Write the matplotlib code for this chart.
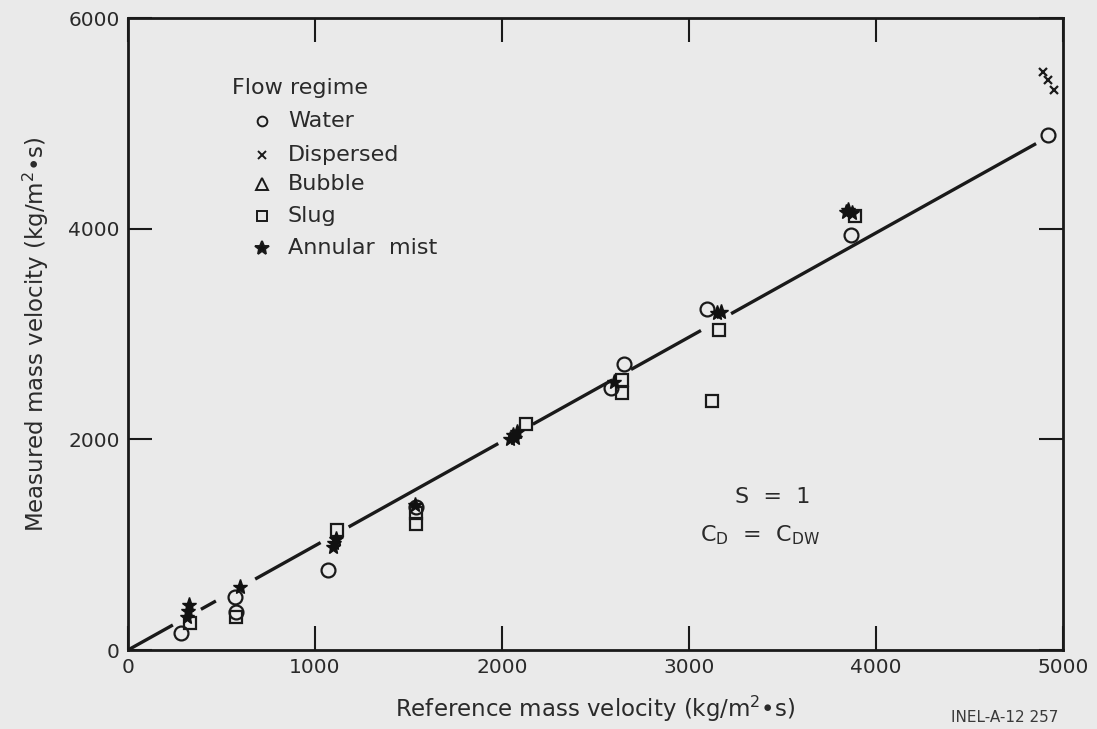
import matplotlib
matplotlib.use("Agg")
import matplotlib.pyplot as plt

# ---------------- data ----------------
water_x = [283, 570, 580, 1072, 1540, 2585, 2650, 3098, 3864, 4920]
water_y = [161, 500, 360, 759, 1360, 2486, 2714, 3236, 3938, 4887]

dispersed_x = [4893, 4920, 4950]
dispersed_y = [5485, 5409, 5314]

bubble_x = []
bubble_y = []

slug_x = [330, 580, 1120, 1540, 1540, 2130, 2640, 2640, 3162, 3125, 3890]
slug_y = [260, 310, 1139, 1300, 1200, 2150, 2562, 2440, 3037, 2363, 4120]

mist_x = [325, 320, 315, 600, 1100, 1110, 1095, 1535, 2058, 2070, 2080, 2045,
          2600, 3152, 3170, 3838, 3850, 3870]
mist_y = [430, 370, 310, 600, 1015, 1050, 980, 1380, 2040, 2010, 2070, 2000,
          2543, 3198, 3210, 4157, 4180, 4150]

# reference line y = slope * x, drawn in pieces (gaps near data clusters)
line_slope = 0.99
line_pieces = [(0, 240), (390, 470), (680, 1030), (1180, 1980),
               (2165, 2590), (2690, 3064), (3225, 4856)]

x_ticks = [0, 1000, 2000, 3000, 4000, 5000]
y_ticks = [0, 2000, 4000, 6000]

legend_title = "Flow regime"
legend_labels = ["Water", "Dispersed", "Bubble", "Slug", "Annular  mist"]

# ---------------- figure ----------------
bg = "#eaeaea"
ink = "#2a2a2a"
fig = plt.figure(figsize=(10.97, 7.29), dpi=100, facecolor=bg)
ax = fig.add_axes([128 / 1097, 1 - 650 / 729, (1063 - 128) / 1097, (650 - 18) / 729])
ax.set_facecolor(bg)

for a, b in line_pieces:
    ax.plot([a, b], [a * line_slope, b * line_slope], color="#1a1a1a", lw=2.4,
            solid_capstyle="butt", zorder=2)

ms = 10
ax.plot(water_x, water_y, linestyle="none", marker="o", ms=ms, mfc="none",
        mec="#1a1a1a", mew=1.6, zorder=3)
ax.plot(slug_x, slug_y, linestyle="none", marker="s", ms=8.5, mfc="none",
        mec="#1a1a1a", mew=1.6, zorder=3)
ax.plot(mist_x, mist_y, linestyle="none", marker="*", ms=11, mfc="#111111",
        mec="#111111", zorder=4)
ax.plot(bubble_x, bubble_y, linestyle="none", marker="^", ms=ms, mfc="none",
        mec="#1a1a1a", mew=1.6, zorder=3)
ax.plot(dispersed_x, dispersed_y, linestyle="none", marker="x", ms=6,
        mec="#1a1a1a", mew=1.6, zorder=4, clip_on=False)

ax.set_xlim(0, 5000)
ax.set_ylim(0, 6000)
ax.set_xticks(x_ticks)
ax.set_yticks(y_ticks)
ax.tick_params(direction="in", length=17, width=1.5, top=True, right=True,
               colors="#1a1a1a", labelcolor=ink, labelsize=14.5, pad=6)
for s in ax.spines.values():
    s.set_linewidth(2.0)
    s.set_color("#1a1a1a")

ax.set_xlabel("Reference mass velocity (kg/m$^{\\mathregular{2}}$•s)", fontsize=16.5,
              color=ink, labelpad=12)
ax.set_ylabel("Measured mass velocity (kg/m$^{\\mathregular{2}}$•s)", fontsize=16.5,
              color=ink, labelpad=12)

# legend drawn as text block
ax.text(0.111, 0.889, legend_title, transform=ax.transAxes, fontsize=16,
        color=ink, va="center", ha="left")
leg_rows = [0.837, 0.783, 0.737, 0.687, 0.636]
leg_markers = [("o", "none", 7), ("x", "#1a1a1a", 6), ("^", "none", 8),
               ("s", "none", 7), ("*", "#111111", 10)]
for (mk, fc, size), lab, yy in zip(leg_markers, legend_labels, leg_rows):
    ax.plot([0.143], [yy], transform=ax.transAxes, marker=mk, ms=size,
            mfc=fc, mec="#1a1a1a", mew=1.4, linestyle="none", clip_on=False)
    ax.text(0.171, yy, lab, transform=ax.transAxes, fontsize=16, color=ink,
            va="center", ha="left")

ax.text(0.649, 0.242, "S  =  1", transform=ax.transAxes, fontsize=16,
        color=ink, va="center", ha="left")
ax.text(0.612, 0.182, "C$_{\\mathregular{D}}$  =  C$_{\\mathregular{DW}}$",
        transform=ax.transAxes, fontsize=16, color=ink, va="center", ha="left")

fig.text(1058 / 1097, 1 - 718 / 729, "INEL-A-12 257", fontsize=11,
         color="#3a3a3a", ha="right", va="center")

fig.savefig("out.png", dpi=100, facecolor=bg)
